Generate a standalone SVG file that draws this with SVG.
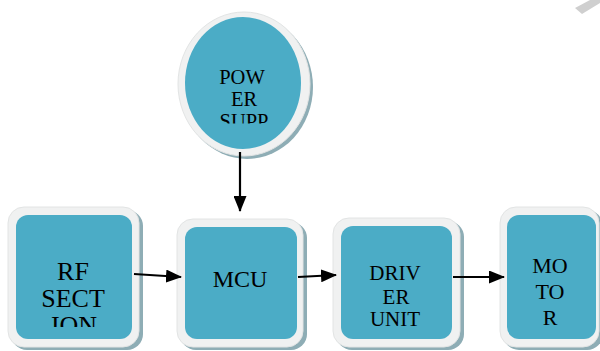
<svg xmlns="http://www.w3.org/2000/svg" width="600" height="351" viewBox="0 0 600 351">
<style>
.ring{fill:#f0f1f1;stroke:#e2e4e4;stroke-width:1}
.shadow{fill:#8eadb5}
.core{fill:#4bacc6}
.t{font-family:"Liberation Serif","Times New Roman",serif;fill:#000;text-anchor:middle}
.c{stroke:#000;stroke-width:2.2;fill:none;marker-end:url(#ah)}
</style>
<defs>
<marker id="ah" viewBox="0 0 16 13" refX="15" refY="6.5" markerWidth="16" markerHeight="13" markerUnits="userSpaceOnUse" orient="auto">
<path d="M0,0 L16,6.5 L0,13 Z" fill="#000"/>
</marker>
<clipPath id="clipPow"><rect x="185" y="17" width="118" height="106.5"/></clipPath>
<clipPath id="clipRf"><rect x="16" y="215" width="116" height="112"/></clipPath>
</defs>
<polygon points="575,8 590,0 600,0 600,3 582,14" fill="#cfcfcf"/>
<g id="power">
<ellipse class="shadow" cx="247" cy="87" rx="66" ry="72"/>
<ellipse class="ring" cx="244" cy="84" rx="66" ry="72"/>
<ellipse class="core" cx="243" cy="83" rx="58" ry="66"/>
<g clip-path="url(#clipPow)">
<text class="t" x="242" y="84" font-size="20.5">POW</text>
<text class="t" x="244" y="106" font-size="20.5">ER</text>
<text class="t" x="244" y="128" font-size="20.5">SUPP</text>
</g>
</g>
<g id="rf">
<rect class="shadow" x="11" y="210" width="132" height="140" rx="16"/>
<rect class="ring" x="8" y="207" width="131" height="140" rx="16"/>
<rect class="core" x="16" y="215" width="116" height="124" rx="12"/>
<g clip-path="url(#clipRf)">
<text class="t" x="73" y="280" font-size="26">RF</text>
<text class="t" x="73" y="307" font-size="26">SECT</text>
<text class="t" x="74" y="334" font-size="26">ION</text>
</g>
</g>
<g id="mcu">
<rect class="shadow" x="180" y="222" width="127" height="128" rx="16"/>
<rect class="ring" x="177" y="219" width="126" height="128" rx="16"/>
<rect class="core" x="185" y="227" width="112" height="112" rx="12"/>
<text class="t" x="240" y="287" font-size="24">MCU</text>
</g>
<g id="driver">
<rect class="shadow" x="336" y="221" width="128" height="129" rx="16"/>
<rect class="ring" x="333" y="218" width="127" height="129" rx="16"/>
<rect class="core" x="341" y="226" width="111" height="113" rx="12"/>
<text class="t" x="395" y="280" font-size="21">DRIV</text>
<text class="t" x="396" y="304" font-size="21">ER</text>
<text class="t" x="395" y="326" font-size="21">UNIT</text>
</g>
<g id="motor">
<rect class="shadow" x="503" y="210" width="100" height="140" rx="16"/>
<rect class="ring" x="500" y="207" width="99" height="140" rx="16"/>
<rect class="core" x="507" y="215" width="89" height="124" rx="12"/>
<text class="t" x="550" y="273" font-size="22">MO</text>
<text class="t" x="550" y="299" font-size="22">TO</text>
<text class="t" x="550" y="325" font-size="22">R</text>
</g>
<g id="connectors">
<line class="c" x1="240" y1="152" x2="240" y2="211"/>
<line class="c" x1="134" y1="274" x2="181" y2="277"/>
<line class="c" x1="298" y1="277" x2="336" y2="275"/>
<line class="c" x1="453" y1="277" x2="504" y2="277"/>
</g>
</svg>
